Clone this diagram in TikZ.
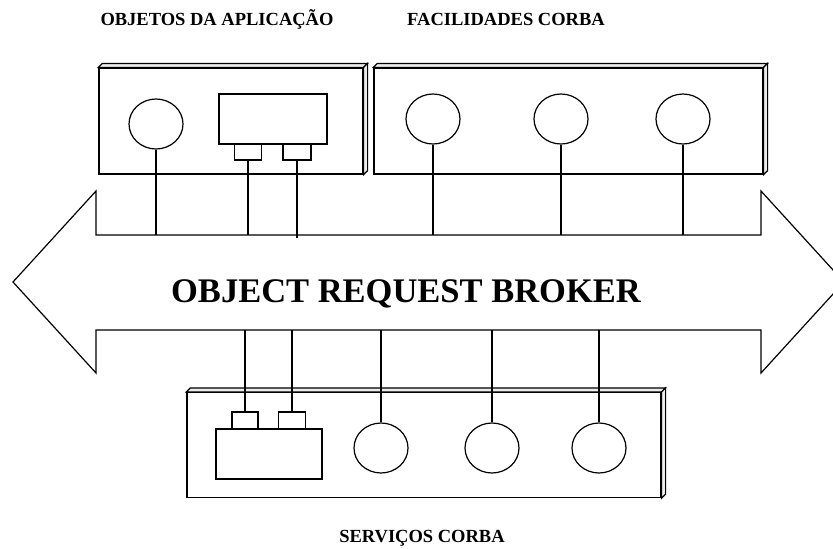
\documentclass[tikz,border=0pt]{standalone}
\usepackage{fontspec}
\setmainfont{Liberation Serif}
\usetikzlibrary{shapes.geometric}

\tikzset{
  ln/.style={line width=1.2pt, line join=miter},
  frontbox/.style={ln, draw, fill=white, rectangle, inner sep=0pt},
  sideface/.style={ln, draw, fill=gray!15},
  obj/.style={ln, draw, fill=white, ellipse, inner sep=0pt, minimum width=54pt, minimum height=50pt},
  iface/.style={ln, draw, fill=white, rectangle, inner sep=0pt},
  wire/.style={ln},
  grouplabel/.style={font=\bfseries\fontsize{18.5}{20}\selectfont, anchor=base},
  orblabel/.style={font=\bfseries\fontsize{34.5}{38}\selectfont, anchor=base}
}

\begin{document}
\begin{tikzpicture}[x=1pt, y=-1pt]
\useasboundingbox (0,0) rectangle (833,549);

% ORB: double-headed block arrow
\draw[ln, fill=white] (13,282) -- (96,191) -- (96,235) -- (761,235) -- (761,191)
  -- (844,282) -- (761,373) -- (761,330) -- (96,330) -- (96,373) -- cycle;
\coordinate (bustop) at (0,235);
\coordinate (busbot) at (0,330);
\node[orblabel] (orb) at (406,302) {OBJECT REQUEST BROKER};

% group frames (front face plus bevelled top and right faces)
\node[frontbox, minimum width=264pt, minimum height=106pt] (appbox) at (231,121) {};
\node[frontbox, minimum width=389pt, minimum height=106pt] (facbox) at (568.5,121) {};
\node[frontbox, minimum width=474pt, minimum height=105pt] (svcbox) at (424,445) {};
\foreach \b in {appbox,facbox,svcbox}{
  \draw[sideface] (\b.north west) -- ++(4,-4) -- ([shift={(4,-4)}]\b.north east) -- (\b.north east) -- cycle;
  \draw[sideface] (\b.north east) -- ++(4,-4) -- ([shift={(4,-4)}]\b.south east) -- (\b.south east) -- cycle;
}

% application objects
\node[obj] (a1) at (156,124) {};
\node[iface, minimum width=108pt, minimum height=50pt] (a2) at (273,119) {};
\node[iface, minimum width=27pt, minimum height=16pt] (a2p) at (248,152) {};
\node[iface, minimum width=28pt, minimum height=16pt] (a2q) at (297,152) {};
\coordinate (a2qend) at (297,238);
\draw[wire] (a1.south) -- (a1.south |- bustop);
\draw[wire] (a2p.south) -- (a2p.south |- bustop);
\draw[wire] (a2q.south) -- (a2qend);

% CORBA facilities
\node[obj] (f1) at (433,119) {};
\node[obj] (f2) at (561,119) {};
\node[obj] (f3) at (683,119) {};
\foreach \n in {f1,f2,f3}
  \draw[wire] (\n.south) -- (\n.south |- bustop);

% CORBA services
\node[iface, minimum width=106pt, minimum height=50pt] (s1) at (269,454) {};
\node[iface, minimum width=26pt, minimum height=17pt] (s1p) at (245,420.5) {};
\node[iface, minimum width=27pt, minimum height=17pt] (s1q) at (292,420.5) {};
\node[obj] (s2) at (381,448) {};
\node[obj] (s3) at (492,448) {};
\node[obj] (s4) at (599,448) {};
\foreach \n in {s1p,s1q,s2,s3,s4}
  \draw[wire] (\n.north) -- (\n.north |- busbot);

% group titles
\node[grouplabel] (tapp) at (217,25) {OBJETOS DA APLICAÇÃO};
\node[grouplabel] (tfac) at (506,25) {FACILIDADES CORBA};
\node[grouplabel] (tsvc) at (422,542) {SERVIÇOS CORBA};
\end{tikzpicture}
\end{document}
